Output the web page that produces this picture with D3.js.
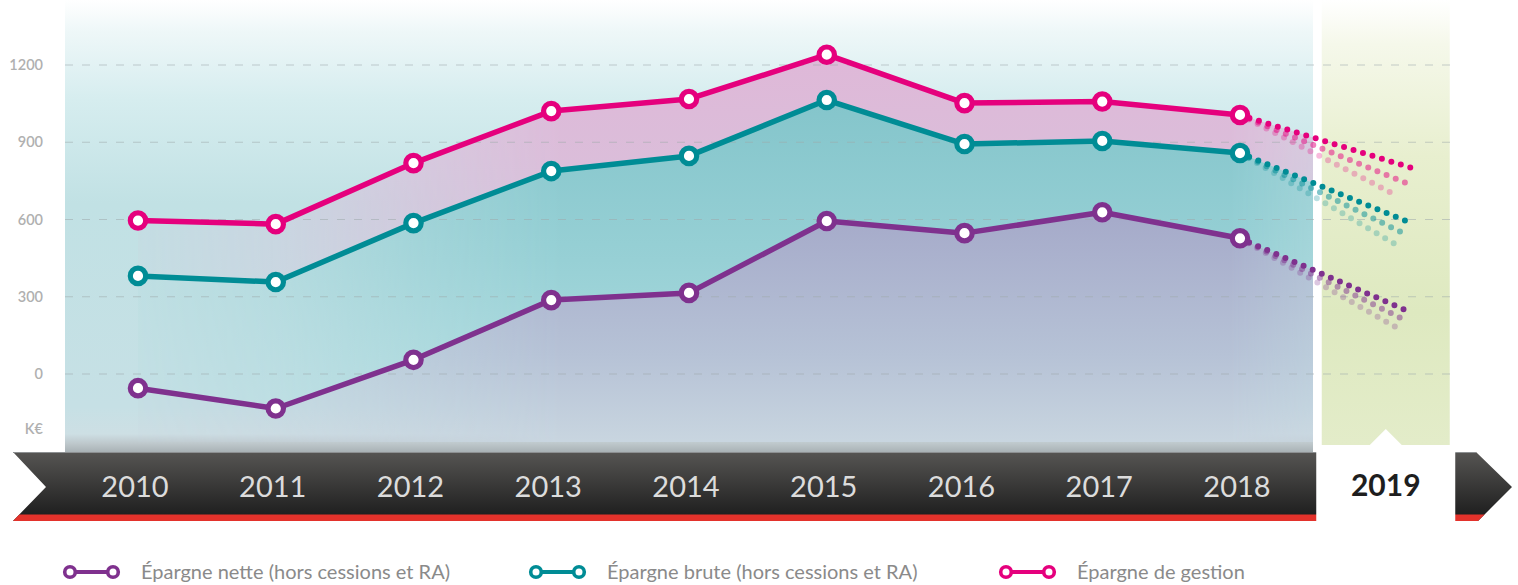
<!DOCTYPE html>
<html>
<head>
<meta charset="utf-8">
<script src="https://cdn.jsdelivr.net/npm/d3@7"></script>
<style>
  body { margin: 0; background: #fff; }
  svg { display: block; font-family: "Source Sans Pro", Lato, "Noto Sans", sans-serif; }
</style>
</head>
<body>
<script>
const years = [2010, 2011, 2012, 2013, 2014, 2015, 2016, 2017, 2018];
const nextYear = 2019;
const nette = [-55, -134, 55, 287, 315, 594, 547, 628, 527];
const brute = [381, 357, 586, 788, 847, 1064, 893, 905, 858];
const gestion = [596, 582, 819, 1021, 1068, 1240, 1052, 1058, 1006];
// three 2019 scenarios per series (dark, medium, light)
const nette2019 = [238, 208, 182];
const brute2019 = [585, 542, 503];
const gestion2019 = [800, 742, 695];
const yTicks = [0, 300, 600, 900, 1200];
const unitLabel = 'K€';
const legendLabels = ['Épargne nette (hors cessions et RA)', 'Épargne brute (hors cessions et RA)', 'Épargne de gestion'];

const WIDTH = 1518;
const HEIGHT = 585;
const PLOT_LEFT = 65;
const PLOT_RIGHT = 1313;
const PLOT_BOTTOM = 452;
const COLORS = ['#7f318e', '#008c95', '#e5007d'];
const SCENARIO_OPACITY = [1, 0.5, 0.27];
const SCENARIO_DX = [34, 28, 18];

let xScale = d3.scaleLinear().domain([2010, 2018]).range([138, 1240]);
let yScale = d3.scaleLinear().domain([0, 1200]).range([374, 65]);

let svg = d3.select('body').append('svg')
  .attr('width', WIDTH)
  .attr('height', HEIGHT);

let defs = svg.append('defs');

function vGrad(id, stops, y1, y2) {
  let g = defs.append('linearGradient').attr('id', id)
    .attr('gradientUnits', 'userSpaceOnUse')
    .attr('x1', 0).attr('x2', 0).attr('y1', y1).attr('y2', y2);
  stops.forEach(s => g.append('stop').attr('offset', s[0]).attr('stop-color', s[1]));
}

vGrad('bgMain', [[0, '#ffffff'], [0.07, '#eef7f8'], [0.22, '#d6edef'], [0.45, '#c1e1e4'], [0.9, '#c6e0e5'], [0.96, '#cddfe4'], [0.98, '#bfc9cd'], [1, '#a9b2b5']], 0, PLOT_BOTTOM);
vGrad('bgNext', [[0, '#ffffff'], [0.1, '#f5f8ea'], [0.35, '#e8efcf'], [0.7, '#dee9c0'], [1, '#e3ecc9']], 0, 445);
vGrad('fillPink', [[0, '#dfb8d8'], [1, '#d6c4dc']], 50, 300);
vGrad('fillTeal', [[0, '#84c5cb'], [0.5, '#97d0d5'], [1, '#b0dde1']], 100, 420);
vGrad('fillPurple', [[0, '#a6abca'], [0.6, '#b6c2d6'], [1, '#c9d6e0']], 220, 445);
vGrad('barGrad', [[0, '#565553'], [1, '#1f1f1f']], 452, 515);

let fadeX = defs.append('linearGradient').attr('id', 'fadeX')
  .attr('gradientUnits', 'userSpaceOnUse')
  .attr('x1', 138).attr('x2', PLOT_RIGHT).attr('y1', 0).attr('y2', 0);
[[0, '#1a1a1a'], [0.12, '#555'], [0.25, '#bbb'], [0.36, '#fff'], [0.93, '#fff'], [1, '#aaa']]
  .forEach(s => fadeX.append('stop').attr('offset', s[0]).attr('stop-color', s[1]));
defs.append('mask').attr('id', 'fadeMask')
  .append('rect').attr('x', 0).attr('y', 0).attr('width', WIDTH).attr('height', HEIGHT)
  .attr('fill', 'url(#fadeX)');
defs.append('clipPath').attr('id', 'plotClip')
  .append('rect').attr('x', PLOT_LEFT).attr('y', 0)
  .attr('width', PLOT_RIGHT - PLOT_LEFT).attr('height', PLOT_BOTTOM - 10);

// backgrounds
svg.append('rect')
  .attr('x', PLOT_LEFT).attr('y', 0)
  .attr('width', PLOT_RIGHT - PLOT_LEFT).attr('height', PLOT_BOTTOM)
  .attr('fill', 'url(#bgMain)');

let nextX = xScale(nextYear) + 8;
svg.append('rect')
  .attr('x', nextX - 64).attr('y', 0)
  .attr('width', 128).attr('height', 445)
  .attr('fill', 'url(#bgNext)');

// stacked-looking fills between the lines
let seriesRows = [nette, brute, gestion];
let proj = [nette2019, brute2019, gestion2019];
function withProj(i) {
  let pts = years.map((y, j) => [xScale(y), yScale(seriesRows[i][j])]);
  pts.push([xScale(nextYear) + SCENARIO_DX[0], yScale(proj[i][0])]);
  return pts;
}

let fills = svg.append('g').attr('clip-path', 'url(#plotClip)')
  .append('g').attr('mask', 'url(#fadeMask)');

let areaBetween = (top, bottom) => {
  let path = d3.path();
  top.forEach((p, k) => k ? path.lineTo(p[0], p[1]) : path.moveTo(p[0], p[1]));
  bottom.slice().reverse().forEach(p => path.lineTo(p[0], p[1]));
  path.closePath();
  return path.toString();
};

let pN = withProj(0), pB = withProj(1), pG = withProj(2);
let floor = pN.map(p => [p[0], PLOT_BOTTOM]);
fills.append('path').attr('d', areaBetween(pG, pB)).attr('fill', 'url(#fillPink)');
fills.append('path').attr('d', areaBetween(pB, pN)).attr('fill', 'url(#fillTeal)');
fills.append('path').attr('d', areaBetween(pN, floor)).attr('fill', 'url(#fillPurple)');

// gridlines
svg.append('g').selectAll('line')
  .data(yTicks)
  .enter()
  .append('line')
  .attr('x1', PLOT_LEFT).attr('x2', 1450)
  .attr('y1', d => yScale(d)).attr('y2', d => yScale(d))
  .attr('stroke', '#9fa9ab')
  .attr('stroke-opacity', 0.55)
  .attr('stroke-width', 1.2)
  .attr('stroke-dasharray', '8,9');

// y labels
svg.append('g').selectAll('text')
  .data(yTicks)
  .enter()
  .append('text')
  .text(d => d)
  .attr('x', 43)
  .attr('y', d => yScale(d))
  .attr('dy', '0.35em')
  .attr('text-anchor', 'end')
  .attr('font-size', '14.5px')
  .attr('font-weight', 600)
  .attr('fill', '#b0b0b0');

svg.append('text')
  .text(unitLabel)
  .attr('x', 43).attr('y', 429).attr('dy', '0.35em')
  .attr('text-anchor', 'end')
  .attr('font-size', '14.5px')
  .attr('font-weight', 600)
  .attr('fill', '#b0b0b0');

// 2019 projections as dotted lines
let projG = svg.append('g');
[0, 1, 2].forEach(i => {
  let last = seriesRows[i][seriesRows[i].length - 1];
  [2, 1, 0].forEach(s => {
    projG.append('line')
      .attr('x1', xScale(2018)).attr('y1', yScale(last))
      .attr('x2', xScale(nextYear) + SCENARIO_DX[s]).attr('y2', yScale(proj[i][s]))
      .attr('stroke', COLORS[i])
      .attr('stroke-opacity', SCENARIO_OPACITY[s])
      .attr('stroke-width', 6)
      .attr('stroke-linecap', 'round')
      .attr('stroke-dasharray', '0 9.9');
  });
});

// solid lines + markers
let line = d3.line()
  .x((d, j) => xScale(years[j]))
  .y(d => yScale(d));

[0, 1, 2].forEach(i => {
  svg.append('path')
    .attr('d', line(seriesRows[i]))
    .attr('fill', 'none')
    .attr('stroke', COLORS[i])
    .attr('stroke-width', 5.5)
    .attr('stroke-linejoin', 'round');
});
[0, 1, 2].forEach(i => {
  svg.append('g').selectAll('circle')
    .data(seriesRows[i])
    .enter()
    .append('circle')
    .attr('cx', (d, j) => xScale(years[j]))
    .attr('cy', d => yScale(d))
    .attr('r', 7.7)
    .attr('fill', '#fff')
    .attr('stroke', COLORS[i])
    .attr('stroke-width', 5.2);
});

// timeline bar
let barPts = [[13, 452], [1476, 452], [1512, 487], [1478, 521], [13, 521], [46, 487]];
defs.append('clipPath').attr('id', 'barClip')
  .append('polygon').attr('points', barPts.map(p => p.join(',')).join(' '));
svg.append('polygon')
  .attr('points', barPts.map(p => p.join(',')).join(' '))
  .attr('fill', 'url(#barGrad)');
svg.append('rect')
  .attr('x', 0).attr('y', 514.5).attr('width', WIDTH).attr('height', 7)
  .attr('fill', '#e3322b')
  .attr('clip-path', 'url(#barClip)');
svg.append('line')
  .attr('x1', 13).attr('x2', 1476).attr('y1', 452.5).attr('y2', 452.5)
  .attr('stroke', '#8d9092').attr('stroke-width', 1);

svg.append('g').selectAll('text')
  .data(years)
  .enter()
  .append('text')
  .text(d => d)
  .attr('x', d => xScale(d) - 3)
  .attr('y', 497)
  .attr('text-anchor', 'middle')
  .attr('font-size', '29px')
  .attr('fill', '#dcdcdc');

// 2019 highlight box
svg.append('rect')
  .attr('x', nextX - 69.5).attr('y', 445.5)
  .attr('width', 139).attr('height', 76)
  .attr('fill', '#fff');
svg.append('polygon')
  .attr('points', [[nextX - 17, 446], [nextX, 429], [nextX + 17, 446]].map(p => p.join(',')).join(' '))
  .attr('fill', '#fff');
svg.append('text')
  .text(nextYear)
  .attr('x', nextX)
  .attr('y', 496)
  .attr('text-anchor', 'middle')
  .attr('font-size', '30px')
  .attr('font-weight', 700)
  .attr('fill', '#1e1e1e');

// legend
const legendX = [62, 528, 998];
let legend = svg.append('g');
legendLabels.forEach((label, i) => {
  let g = legend.append('g').attr('transform', `translate(${legendX[i]},572)`);
  g.append('line').attr('x1', 8).attr('x2', 51).attr('y1', 0).attr('y2', 0)
    .attr('stroke', COLORS[i]).attr('stroke-width', 4);
  g.append('circle').attr('cx', 8).attr('cy', 0).attr('r', 5.3)
    .attr('fill', '#fff').attr('stroke', COLORS[i]).attr('stroke-width', 3.6);
  g.append('circle').attr('cx', 51).attr('cy', 0).attr('r', 5.3)
    .attr('fill', '#fff').attr('stroke', COLORS[i]).attr('stroke-width', 3.6);
  g.append('text').text(label)
    .attr('x', 79).attr('y', 0).attr('dy', '0.35em')
    .attr('font-size', '20px')
    .attr('fill', '#8a8a8a');
});
</script>
</body>
</html>
